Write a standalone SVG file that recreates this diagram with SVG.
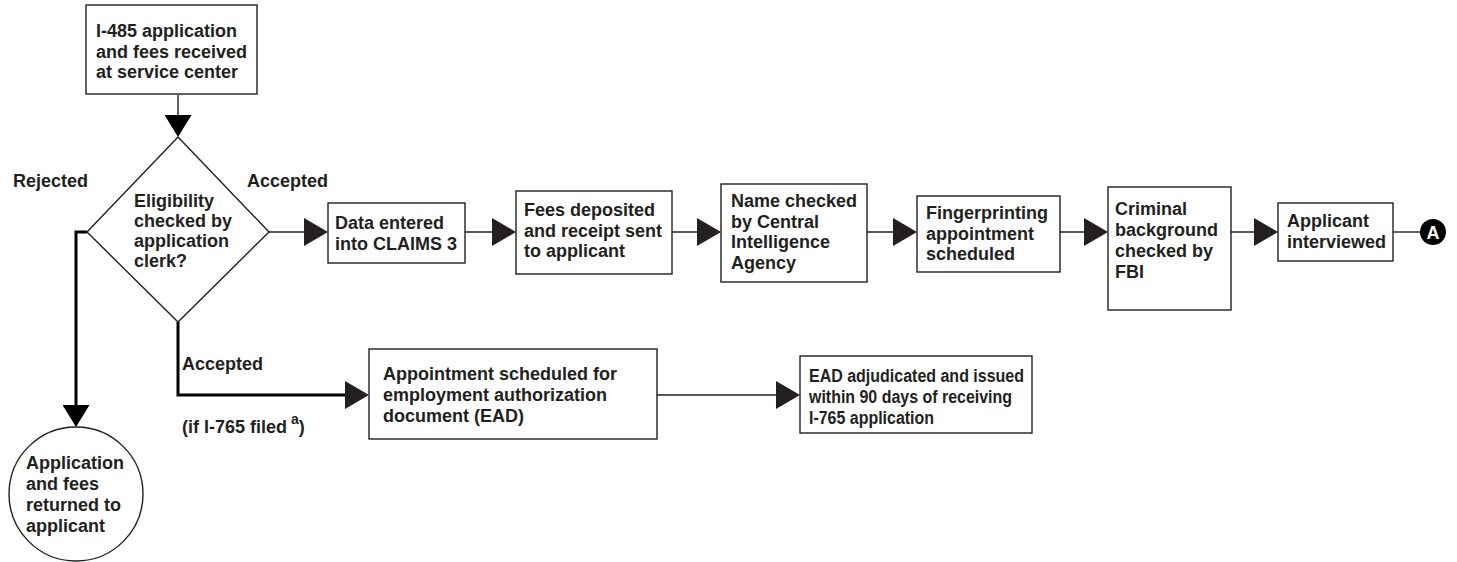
<svg xmlns="http://www.w3.org/2000/svg" width="1457" height="562" viewBox="0 0 1457 562">
  <style>
    .box { fill: #ffffff; stroke: #231f20; stroke-width: 1.4; }
    .t { font-family: "Liberation Sans", Arial, Helvetica, sans-serif; font-weight: bold; font-size: 18px; fill: #231f20; }
    .ts { font-family: "Liberation Sans", Arial, Helvetica, sans-serif; font-weight: bold; font-size: 18px; fill: #231f20; }
    .thin { fill: none; stroke: #231f20; stroke-width: 1.4; }
    .thick { fill: none; stroke: #000000; stroke-width: 3; }
  </style>
  <defs>
    <marker id="arr" markerUnits="userSpaceOnUse" markerWidth="24" markerHeight="28" refX="18" refY="14" orient="auto" viewBox="0 0 24 28">
      <path d="M0,0 L24,14 L0,28 Z" fill="#231f20"/>
    </marker>
    <marker id="arrV" markerUnits="userSpaceOnUse" markerWidth="22" markerHeight="27" refX="16" refY="13.5" orient="auto" viewBox="0 0 22 27">
      <path d="M0,0 L22,13.5 L0,27 Z" fill="#000000"/>
    </marker>
  </defs>

  <g id="connectors">
    <path class="thin" d="M178,95 L178,131" marker-end="url(#arrV)"/>
    <path class="thin" d="M269,232 L322,232" marker-end="url(#arr)"/>
    <path class="thin" d="M465,232 L510,232" marker-end="url(#arr)"/>
    <path class="thin" d="M672,232 L715,232" marker-end="url(#arr)"/>
    <path class="thin" d="M867,232 L911,232" marker-end="url(#arr)"/>
    <path class="thin" d="M1060,232 L1102,232" marker-end="url(#arr)"/>
    <path class="thin" d="M1231,232 L1272,232" marker-end="url(#arr)"/>
    <path class="thin" d="M1393,232 L1421,232"/>
    <path class="thick" d="M87,232 L76,232 L76,421" marker-end="url(#arrV)"/>
    <path class="thick" d="M178,322 L178,395 L363,395" marker-end="url(#arr)"/>
    <path class="thin" d="M657,395 L794,395" marker-end="url(#arr)"/>
    <text class="t" x="13" y="187">Rejected</text>
    <text class="t" x="247" y="187">Accepted</text>
    <text class="t" x="182" y="370">Accepted</text>
    <text class="t" x="182" y="433">(if I-765 filed<tspan font-size="14px" dx="4" dy="-9">a</tspan><tspan dy="9">)</tspan></text>
  </g>

  <g id="n-start">
    <rect class="box" x="86" y="5" width="171" height="89"/>
    <text class="t" x="96" y="37">I-485 application</text>
    <text class="t" x="96" y="57.5">and fees received</text>
    <text class="t" x="96" y="78">at service center</text>
  </g>

  <g id="n-eligibility">
    <polygon class="box" points="178,137 269,232 178,322 87,232"/>
    <text class="t" x="134" y="207">Eligibility</text>
    <text class="t" x="134" y="227">checked by</text>
    <text class="t" x="134" y="247">application</text>
    <text class="t" x="134" y="267">clerk?</text>
  </g>

  <g id="n-data">
    <rect class="box" x="328" y="203" width="137" height="60"/>
    <text class="t" x="335" y="229">Data entered</text>
    <text class="t" x="335" y="250">into CLAIMS 3</text>
  </g>

  <g id="n-fees">
    <rect class="box" x="516" y="191" width="156" height="83"/>
    <text class="t" x="524" y="216">Fees deposited</text>
    <text class="t" x="524" y="237">and receipt sent</text>
    <text class="t" x="524" y="257">to applicant</text>
  </g>

  <g id="n-cia">
    <rect class="box" x="721" y="184" width="146" height="98"/>
    <text class="t" x="731" y="207">Name checked</text>
    <text class="t" x="731" y="228">by Central</text>
    <text class="t" x="731" y="248">Intelligence</text>
    <text class="t" x="731" y="269">Agency</text>
  </g>

  <g id="n-finger">
    <rect class="box" x="917" y="196" width="143" height="76"/>
    <text class="t" x="926" y="219">Fingerprinting</text>
    <text class="t" x="926" y="240">appointment</text>
    <text class="t" x="926" y="260">scheduled</text>
  </g>

  <g id="n-fbi">
    <rect class="box" x="1108" y="187" width="123" height="123"/>
    <text class="t" x="1115" y="215">Criminal</text>
    <text class="t" x="1115" y="236">background</text>
    <text class="t" x="1115" y="257">checked by</text>
    <text class="t" x="1115" y="278">FBI</text>
  </g>

  <g id="n-interview">
    <rect class="box" x="1278" y="203" width="115" height="58"/>
    <text class="t" x="1287" y="227">Applicant</text>
    <text class="t" x="1287" y="248">interviewed</text>
  </g>

  <g id="n-A">
    <circle cx="1433" cy="232" r="13" fill="#000000"/>
    <text x="1433" y="239" text-anchor="middle" font-family="Liberation Sans, Arial, sans-serif" font-weight="bold" font-size="18px" fill="#ffffff">A</text>
  </g>

  <g id="n-returned">
    <circle class="box" cx="76" cy="494" r="67"/>
    <text class="t" x="26" y="469">Application</text>
    <text class="t" x="26" y="490">and fees</text>
    <text class="t" x="26" y="511">returned to</text>
    <text class="t" x="26" y="532">applicant</text>
  </g>

  <g id="n-appointment">
    <rect class="box" x="369" y="349" width="288" height="90"/>
    <text class="t" x="383" y="380">Appointment scheduled for</text>
    <text class="t" x="383" y="401">employment authorization</text>
    <text class="t" x="383" y="422">document (EAD)</text>
  </g>

  <g id="n-ead">
    <rect class="box" x="800" y="356" width="232" height="77"/>
    <text class="ts" x="809" y="382" textLength="215" lengthAdjust="spacingAndGlyphs">EAD adjudicated and issued</text>
    <text class="ts" x="809" y="403" textLength="203" lengthAdjust="spacingAndGlyphs">within 90 days of receiving</text>
    <text class="ts" x="809" y="424" textLength="125" lengthAdjust="spacingAndGlyphs">I-765 application</text>
  </g>
</svg>
